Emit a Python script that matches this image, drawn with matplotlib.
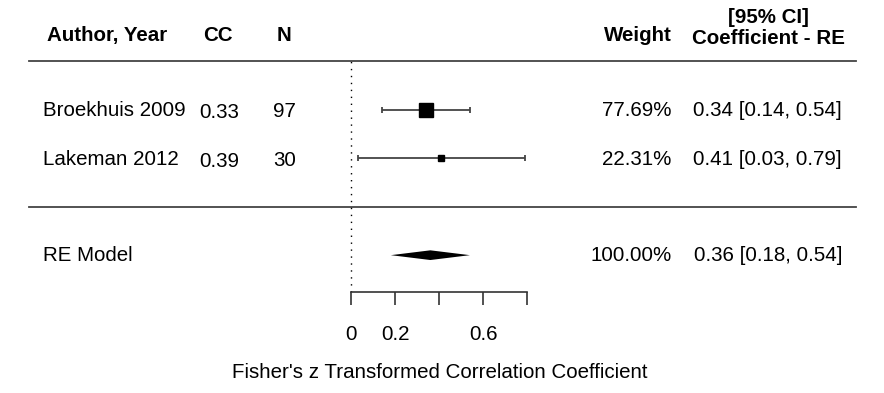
import matplotlib.pyplot as plt

# study data
studies = ['Broekhuis 2009', 'Lakeman 2012']
cc = ['0.33', '0.39']
n = ['97', '30']
est = [0.34, 0.41]
lo = [0.14, 0.03]
hi = [0.54, 0.79]
weights = [77.69, 22.31]

re_label = 'RE Model'
re_est, re_lo, re_hi = 0.36, 0.18, 0.54
re_weight = 100.00

xticks = [0, 0.2, 0.4, 0.6, 0.8]
xticklabels = ['0', '0.2', '', '0.6', '']
xlabel = "Fisher's z Transformed Correlation Coefficient"

plt.rcParams['font.family'] = ['Liberation Sans', 'DejaVu Sans']
fs = 14.8
W = 884.0

rows = [2, 1]
re_row = -1

fig = plt.figure(figsize=(8.84, 3.93), dpi=100)
ax = fig.add_axes([0, 0.2578, 1, 0.7422])
ax.set_xlim(-1.600, 2.426)
ax.set_ylim(-1.753, 4.262)
for s in ['top', 'left', 'right']:
    ax.spines[s].set_visible(False)
ax.spines['bottom'].set_bounds(xticks[0], xticks[-1])
ax.spines['bottom'].set_color('#333333')
ax.spines['bottom'].set_linewidth(1.2)
ax.set_yticks([])
ax.set_xticks(xticks)
ax.set_xticklabels(xticklabels, fontsize=fs)
ax.tick_params(axis='x', length=9.5, width=1.2, color='#333333', pad=14.5)
ax.set_xlabel(xlabel, fontsize=fs)
ax.xaxis.set_label_coords(439.4 / W, -0.276)
ax.xaxis.label.set_va('center')

tr = ax.get_yaxis_transform()

# separators and reference line
ax.axhline(3, 29 / W, 855.7 / W, color='#444444', lw=1.3)
ax.axhline(0, 29 / W, 855.7 / W, color='#444444', lw=1.3)
ax.vlines(0, -1.753, 3, colors='black', lw=1, linestyles=(0, (1, 4)))

# headers
hy = 3.52
ax.text(47 / W, hy, 'Author, Year', transform=tr, ha='left', va='center', fontsize=fs, fontweight='bold')
ax.text(218 / W, hy, 'CC', transform=tr, ha='center', va='center', fontsize=fs, fontweight='bold')
ax.text(284.5 / W, hy, 'N', transform=tr, ha='center', va='center', fontsize=fs, fontweight='bold')
ax.text(671.7 / W, hy, 'Weight', transform=tr, ha='right', va='center', fontsize=fs, fontweight='bold')
ax.text(768 / W, 3.47, 'Coefficient - RE', transform=tr, ha='center', va='center', fontsize=fs, fontweight='bold')
ax.text(768 / W, 3.91, '[95% CI]', transform=tr, ha='center', va='center', fontsize=fs, fontweight='bold')

# studies
wmax = max(weights)
for i, r in enumerate(rows):
    ax.hlines(r, lo[i], hi[i], colors='#444444', lw=1.3)
    ax.plot([lo[i], hi[i]], [r, r], '|', color='#444444', ms=5, mew=1.3)
    ax.plot(est[i], r, 's', color='black', ms=10 * (weights[i] / wmax) ** 0.8)
    ax.text(43 / W, r - 0.02, studies[i], transform=tr, ha='left', va='center', fontsize=fs)
    ax.text(219.5 / W, r - 0.06, cc[i], transform=tr, ha='center', va='center', fontsize=fs)
    ax.text(284.5 / W, r - 0.04, n[i], transform=tr, ha='center', va='center', fontsize=fs)
    ax.text(671.7 / W, r - 0.02, '%.2f%%' % weights[i], transform=tr, ha='right', va='center', fontsize=fs)
    ax.text(842 / W, r - 0.02, '%.2f [%.2f, %.2f]' % (est[i], lo[i], hi[i]), transform=tr,
            ha='right', va='center', fontsize=fs)

# summary diamond
h = 0.1
ax.fill([re_lo, re_est, re_hi, re_est], [re_row, re_row + h, re_row, re_row - h],
        color='black', lw=0)
ax.text(43 / W, re_row, re_label, transform=tr, ha='left', va='center', fontsize=fs)
ax.text(671.7 / W, re_row, '%.2f%%' % re_weight, transform=tr, ha='right', va='center', fontsize=fs)
ax.text(842 / W, re_row, '%.2f [%.2f, %.2f]' % (re_est, re_lo, re_hi), transform=tr,
        ha='right', va='center', fontsize=fs)

fig.savefig('out.png', dpi=100)
